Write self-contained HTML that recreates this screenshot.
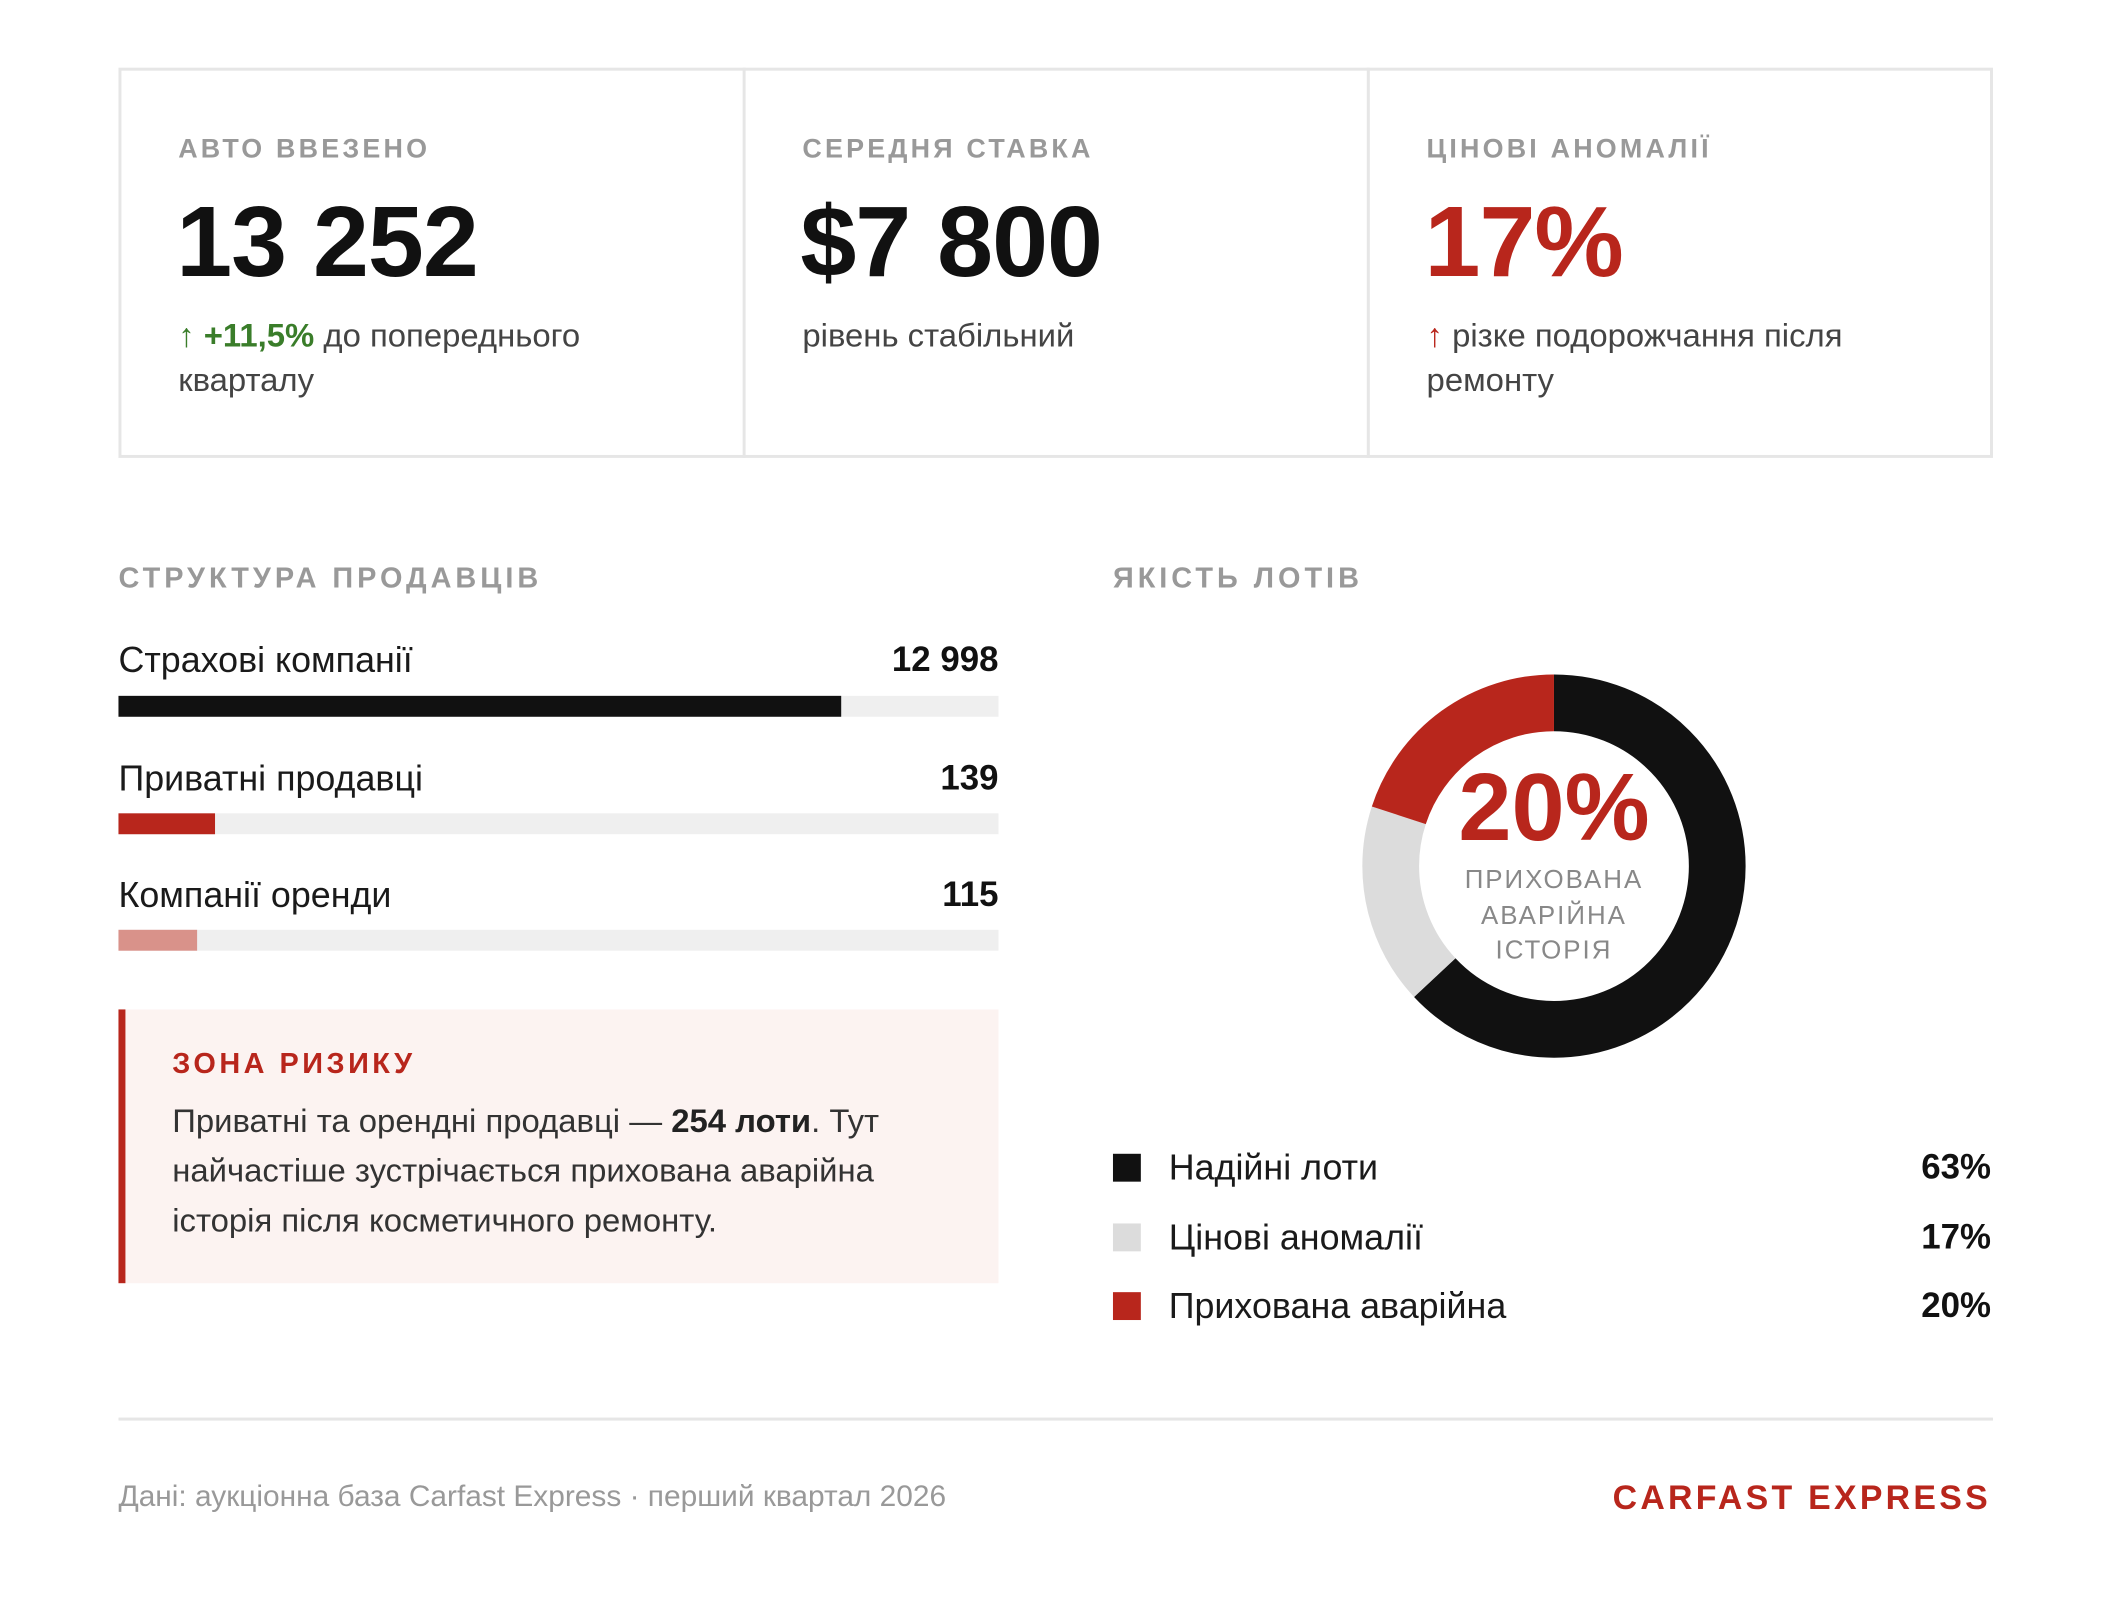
<!DOCTYPE html>
<html><head><meta charset="utf-8"><style>
*{margin:0;padding:0;box-sizing:border-box}
body{width:2106px;height:1614px;background:#fff;position:relative;font-family:"Liberation Sans","DejaVu Sans",sans-serif;color:#1a1a1a;overflow:hidden}
#w{position:absolute;left:0;top:0;width:2106px;height:1614px;transform:scale(0.9955);transform-origin:0 0}
.a{position:absolute;white-space:nowrap}
.lbl{font-size:27px;font-weight:bold;letter-spacing:3.2px;color:#999;line-height:40px}
.slbl{font-size:29px;font-weight:bold;letter-spacing:4px;color:#999;line-height:40px}
.big{font-size:101px;font-weight:bold;line-height:110px;letter-spacing:-1px;color:#111}
.sub{font-size:33px;line-height:45px;color:#444}
.row{font-size:36px;line-height:44px;color:#1a1a1a}
.val{font-size:35px;line-height:44px;font-weight:bold;text-align:right;color:#111}
.bar{position:absolute;left:119px;width:884px;height:21px;background:#efefef}
.bar div{height:100%}
</style></head><body><div id="w">
<div class="a" style="left:119px;top:68px;width:1883px;height:392px;border:3px solid #e6e6e6"></div>
<div class="a" style="left:746px;top:68px;width:3px;height:392px;background:#e6e6e6"></div>
<div class="a" style="left:1373px;top:68px;width:3px;height:392px;background:#e6e6e6"></div>

<div class="a lbl" style="left:179px;top:129px">АВТО ВВЕЗЕНО</div>
<div class="a big" style="left:177px;top:188px">13 252</div>
<div class="a sub" style="left:179px;top:314px"><span style="color:#3a7d2a;font-weight:bold">↑ +11,5%</span> до попереднього<br>кварталу</div>

<div class="a lbl" style="left:806px;top:129px">СЕРЕДНЯ СТАВКА</div>
<div class="a big" style="left:804px;top:188px">$7 800</div>
<div class="a sub" style="left:806px;top:314px">рівень стабільний</div>

<div class="a lbl" style="left:1433px;top:129px">ЦІНОВІ АНОМАЛІЇ</div>
<div class="a big" style="left:1431px;top:188px;color:#b8261c">17%</div>
<div class="a sub" style="left:1433px;top:314px"><span style="color:#b8261c;font-weight:bold">↑</span> різке подорожчання після<br>ремонту</div>

<div class="a slbl" style="left:119px;top:561px">СТРУКТУРА ПРОДАВЦІВ</div>
<div class="a slbl" style="left:1118px;top:561px">ЯКІСТЬ ЛОТІВ</div>

<div class="a row" style="left:119px;top:641px">Страхові компанії</div>
<div class="a val" style="left:803px;width:200px;top:641px">12 998</div>
<div class="bar" style="top:699px"><div style="width:726px;background:#111"></div></div>

<div class="a row" style="left:119px;top:760px">Приватні продавці</div>
<div class="a val" style="left:803px;width:200px;top:760px">139</div>
<div class="bar" style="top:817px"><div style="width:97px;background:#b8261c"></div></div>

<div class="a row" style="left:119px;top:877px">Компанії оренди</div>
<div class="a val" style="left:803px;width:200px;top:877px">115</div>
<div class="bar" style="top:934px"><div style="width:79px;background:#d9928a"></div></div>

<div class="a" style="left:119px;top:1014px;width:884px;height:275px;background:#fcf3f1;border-left:7px solid #b8261c"></div>
<div class="a slbl" style="left:173px;top:1049px;color:#b8261c;letter-spacing:3.5px">ЗОНА РИЗИКУ</div>
<div class="a" style="left:173px;top:1101px;font-size:33px;line-height:50px;color:#333">Приватні та орендні продавці — <b style="color:#222">254 лоти</b>. Тут<br>найчастіше зустрічається прихована аварійна<br>історія після косметичного ремонту.</div>

<svg class="a" style="left:0;top:0" width="2106" height="1614">
<g transform="translate(1561,870) rotate(-90)" fill="none" stroke-width="57">
<circle r="164" stroke="#111" stroke-dasharray="649.2 2000" stroke-dashoffset="0"/>
<circle r="164" stroke="#dcdcdc" stroke-dasharray="175.2 2000" stroke-dashoffset="-649.2"/>
<circle r="164" stroke="#b8261c" stroke-dasharray="206.1 2000" stroke-dashoffset="-824.4"/>
</g>
</svg>
<div class="a" style="left:1361px;width:400px;text-align:center;top:759px;font-size:96px;font-weight:bold;line-height:105px;color:#b8261c">20%</div>
<div class="a" style="left:1361px;width:400px;text-align:center;top:866px;font-size:26px;letter-spacing:2px;line-height:35.5px;color:#888;white-space:normal">ПРИХОВАНА<br>АВАРІЙНА<br>ІСТОРІЯ</div>

<div class="a" style="left:1118px;top:1159px;width:28px;height:28px;background:#111"></div>
<div class="a row" style="left:1174px;top:1151px">Надійні лоти</div>
<div class="a val" style="left:1800px;width:200px;top:1151px">63%</div>
<div class="a" style="left:1118px;top:1229px;width:28px;height:28px;background:#dcdcdc"></div>
<div class="a row" style="left:1174px;top:1221px">Цінові аномалії</div>
<div class="a val" style="left:1800px;width:200px;top:1221px">17%</div>
<div class="a" style="left:1118px;top:1298px;width:28px;height:28px;background:#b8261c"></div>
<div class="a row" style="left:1174px;top:1290px">Прихована аварійна</div>
<div class="a val" style="left:1800px;width:200px;top:1290px">20%</div>

<div class="a" style="left:119px;top:1424px;width:1883px;height:3px;background:#e6e6e6"></div>
<div class="a" style="left:119px;top:1486px;font-size:30px;line-height:36px;color:#999">Дані: аукціонна база Carfast Express · перший квартал 2026</div>
<div class="a" style="left:1500px;width:500px;text-align:right;top:1484px;font-size:34px;font-weight:bold;letter-spacing:3.3px;line-height:42px;color:#b8261c">CARFAST EXPRESS</div>
</div></body></html>
